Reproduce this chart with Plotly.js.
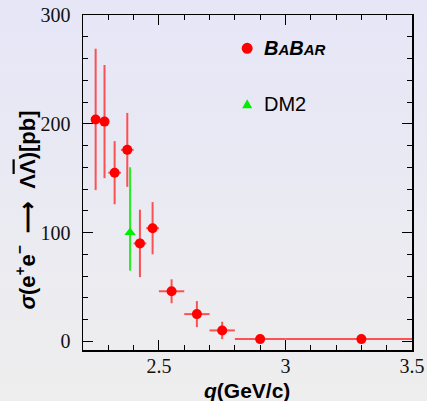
<!DOCTYPE html>
<html>
<head>
<meta charset="utf-8">
<script src="https://cdn.plot.ly/plotly-3.0.1.min.js"></script>
<style>
html,body{margin:0;padding:0;}
body{width:427px;height:401px;background:linear-gradient(to bottom,#e6e6f7 0%,#eeeeee 100%);}
#chart{width:427px;height:401px;}
</style>
</head>
<body>
<div id="chart"></div>
<script>
// BaBar data
const qBabar = [2.25, 2.285, 2.325, 2.375, 2.425, 2.475, 2.55, 2.65, 2.75, 2.9, 3.3];
const sigmaBabar = [204, 202, 155, 176, 90, 104, 46, 25, 10, 2, 2];
const errYBabar = [65, 52, 29, 34, 31, 24, 11, 12, 8, 1.5, 1.5];
const errXBabar = [0.015, 0.015, 0.025, 0.025, 0.025, 0.025, 0.05, 0.05, 0.05, 0.1, 0.3];
// DM2 data
const qDM2 = [2.386];
const sigmaDM2 = [100];
const errPlusDM2 = [60];
const errMinusDM2 = [35];
// tick labels
const xTickVals = [2.5, 3, 3.5];
const xTickText = ['2.5', '3', '3.5'];
const yTickVals = [0, 100, 200, 300];
const yTickText = ['0', '100', '200', '300'];

const errColor = 'rgba(255,30,30,0.75)';
const traces = [
  {
    x: qDM2, y: sigmaDM2, type: 'scatter', mode: 'markers', name: 'DM2',
    marker: {symbol: 'triangle-up', size: 10, color: '#00ee00'},
    error_y: {type: 'data', symmetric: false, array: errPlusDM2, arrayminus: errMinusDM2, color: '#22ee22', thickness: 2, width: 0}
  },
  {
    x: qBabar, y: sigmaBabar, type: 'scatter', mode: 'markers', name: 'BaBar',
    marker: {symbol: 'circle', size: 10, color: '#ff0000'},
    error_y: {type: 'data', array: errYBabar, color: errColor, thickness: 2, width: 0},
    error_x: {type: 'data', array: errXBabar, color: errColor, thickness: 2, width: 0}
  }
];

const axisCommon = {
  showline: true, linecolor: '#000', linewidth: 1.5, mirror: 'ticks',
  ticks: 'inside', ticklen: 10, tickwidth: 1, tickcolor: '#000',
  showgrid: false, zeroline: false,
  tickfont: {family: 'Liberation Serif', size: 20, color: '#111'}
};

const layout = {
  width: 427, height: 401,
  margin: {l: 83, r: 15.3, t: 14.7, b: 51},
  paper_bgcolor: 'rgba(0,0,0,0)', plot_bgcolor: 'rgba(0,0,0,0)',
  showlegend: false,
  xaxis: Object.assign({}, axisCommon, {
    range: [2.2, 3.5], tickmode: 'array', tickvals: xTickVals, ticktext: xTickText,
    ticklabelstandoff: -3,
    minor: {dtick: 0.1, tick0: 2.0, ticks: 'inside', ticklen: 5, tickwidth: 1, tickcolor: '#000', showgrid: false}
  }),
  yaxis: Object.assign({}, axisCommon, {
    range: [-8, 300], tickmode: 'array', tickvals: yTickVals, ticktext: yTickText,
    ticklabelstandoff: 7,
    minor: {dtick: 20, tick0: 0, ticks: 'inside', ticklen: 5, tickwidth: 1, tickcolor: '#000', showgrid: false}
  }),
  shapes: [
    {type: 'circle', xref: 'paper', yref: 'paper', xsizemode: 'pixel', ysizemode: 'pixel',
     xanchor: 0.499, yanchor: 0.9007, x0: -5.5, x1: 5.5, y0: -5.5, y1: 5.5,
     fillcolor: '#ff0000', line: {width: 0}},
    {type: 'path', xref: 'paper', yref: 'paper', xsizemode: 'pixel', ysizemode: 'pixel',
     xanchor: 0.499, yanchor: 0.7337, path: 'M-5,-4 L5,-4 L0,5 Z',
     fillcolor: '#00ee00', line: {width: 0}}
  ],
  annotations: [
    {xref: 'paper', yref: 'paper', x: 0.5436, y: 0.9007, xanchor: 'left', yanchor: 'middle', showarrow: false,
     text: '<b><i>B<span style="font-size:15px">A</span>B<span style="font-size:15px">AR</span></i></b>',
     font: {family: 'Liberation Sans', size: 20, color: '#000'}},
    {xref: 'paper', yref: 'paper', x: 0.5436, y: 0.7337, xanchor: 'left', yanchor: 'middle', showarrow: false,
     text: 'DM2', font: {family: 'Liberation Sans', size: 20, color: '#000'}},
    {xref: 'paper', yref: 'paper', x: 0.4977, y: -0.121, xanchor: 'center', yanchor: 'middle', showarrow: false,
     text: '<b><i>q</i>(GeV/c)</b>', font: {family: 'Liberation Sans', size: 21, color: '#000'}},
    {xref: 'paper', yref: 'paper', x: -0.1765, y: 0.419, xanchor: 'center', yanchor: 'middle', showarrow: false,
     textangle: -90,
     text: '<b><i>σ</i>(e<sup>+</sup>e<sup>−</sup>  ⟶  Λ<span style="text-decoration:overline">Λ</span>)[pb]</b>',
     font: {family: 'Liberation Sans', size: 22, color: '#000'}}
  ]
};

Plotly.newPlot('chart', traces, layout, {displayModeBar: false, staticPlot: true});
</script>
</body>
</html>
